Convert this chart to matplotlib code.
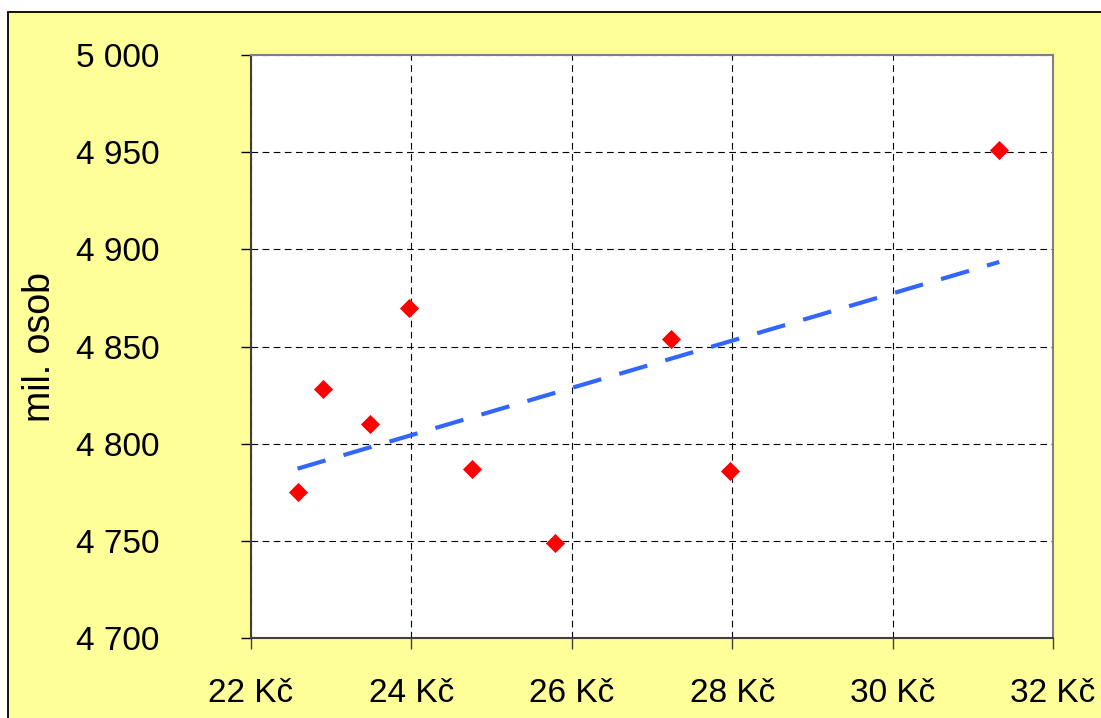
import matplotlib.pyplot as plt
import numpy as np
from matplotlib.patches import Rectangle
from matplotlib.ticker import FuncFormatter

# data (price in Kc vs. thousands of persons)
cena = [22.58, 22.90, 23.48, 23.97, 24.76, 25.79, 27.24, 27.97, 31.33]
osoby = [4775, 4828, 4810, 4870, 4787, 4749, 4854, 4786, 4951]
x_ticks = [22, 24, 26, 28, 30, 32]
y_ticks = [4700, 4750, 4800, 4850, 4900, 4950, 5000]

plt.rcParams['font.family'] = ['Liberation Sans', 'DejaVu Sans']

fig = plt.figure(figsize=(11.01, 7.18), dpi=100)
fig.patch.set_facecolor('white')

# yellow chart area with black border (cut by the image edges)
bg = Rectangle((8 / 1101, -0.1), 1.1, (1 - 12 / 718) + 0.1,
               transform=fig.transFigure, facecolor='#FFFF99',
               edgecolor='black', linewidth=1.3, zorder=-1)
fig.add_artist(bg)

ax = fig.add_axes([251 / 1101, 1 - 638 / 718, 802 / 1101, 583 / 718])
ax.set_facecolor('white')

ax.scatter(cena, osoby, marker='D', s=95, color='#FF0000', zorder=4,
           linewidths=0)

# linear trend line
k, q = np.polyfit(cena, osoby, 1)
xt = np.array([min(cena), max(cena)])
ax.plot(xt, k * xt + q, color='#3366FF', lw=3, linestyle=(0, (7, 4.5)),
        zorder=3, solid_capstyle='butt', dash_capstyle='butt')

ax.set_xlim(22, 32)
ax.set_ylim(4700, 5000)
ax.set_xticks(x_ticks)
ax.set_yticks(y_ticks)
ax.xaxis.set_major_formatter(FuncFormatter(lambda v, p: f"{int(v)} Kč"))
ax.yaxis.set_major_formatter(
    FuncFormatter(lambda v, p: f"{int(v):,}".replace(",", " ")))

ax.grid(True, color='black', lw=0.8, linestyle=(0, (6, 4)))
ax.set_axisbelow(True)

for s in ax.spines.values():
    s.set_color('#808080')
    s.set_linewidth(1.5)
ax.spines['left'].set_color('#404040')
ax.spines['bottom'].set_color('#404040')

ax.tick_params(axis='y', direction='out', length=7, width=1, color='black',
               labelsize=24, pad=59)
ax.tick_params(axis='x', direction='out', length=8, width=1, color='#404040',
               labelsize=24, pad=21)

ax.set_ylabel('mil. osob', fontsize=27)
ax.yaxis.set_label_coords(-0.2406, 0.50)

fig.savefig('out.png', dpi=100)
